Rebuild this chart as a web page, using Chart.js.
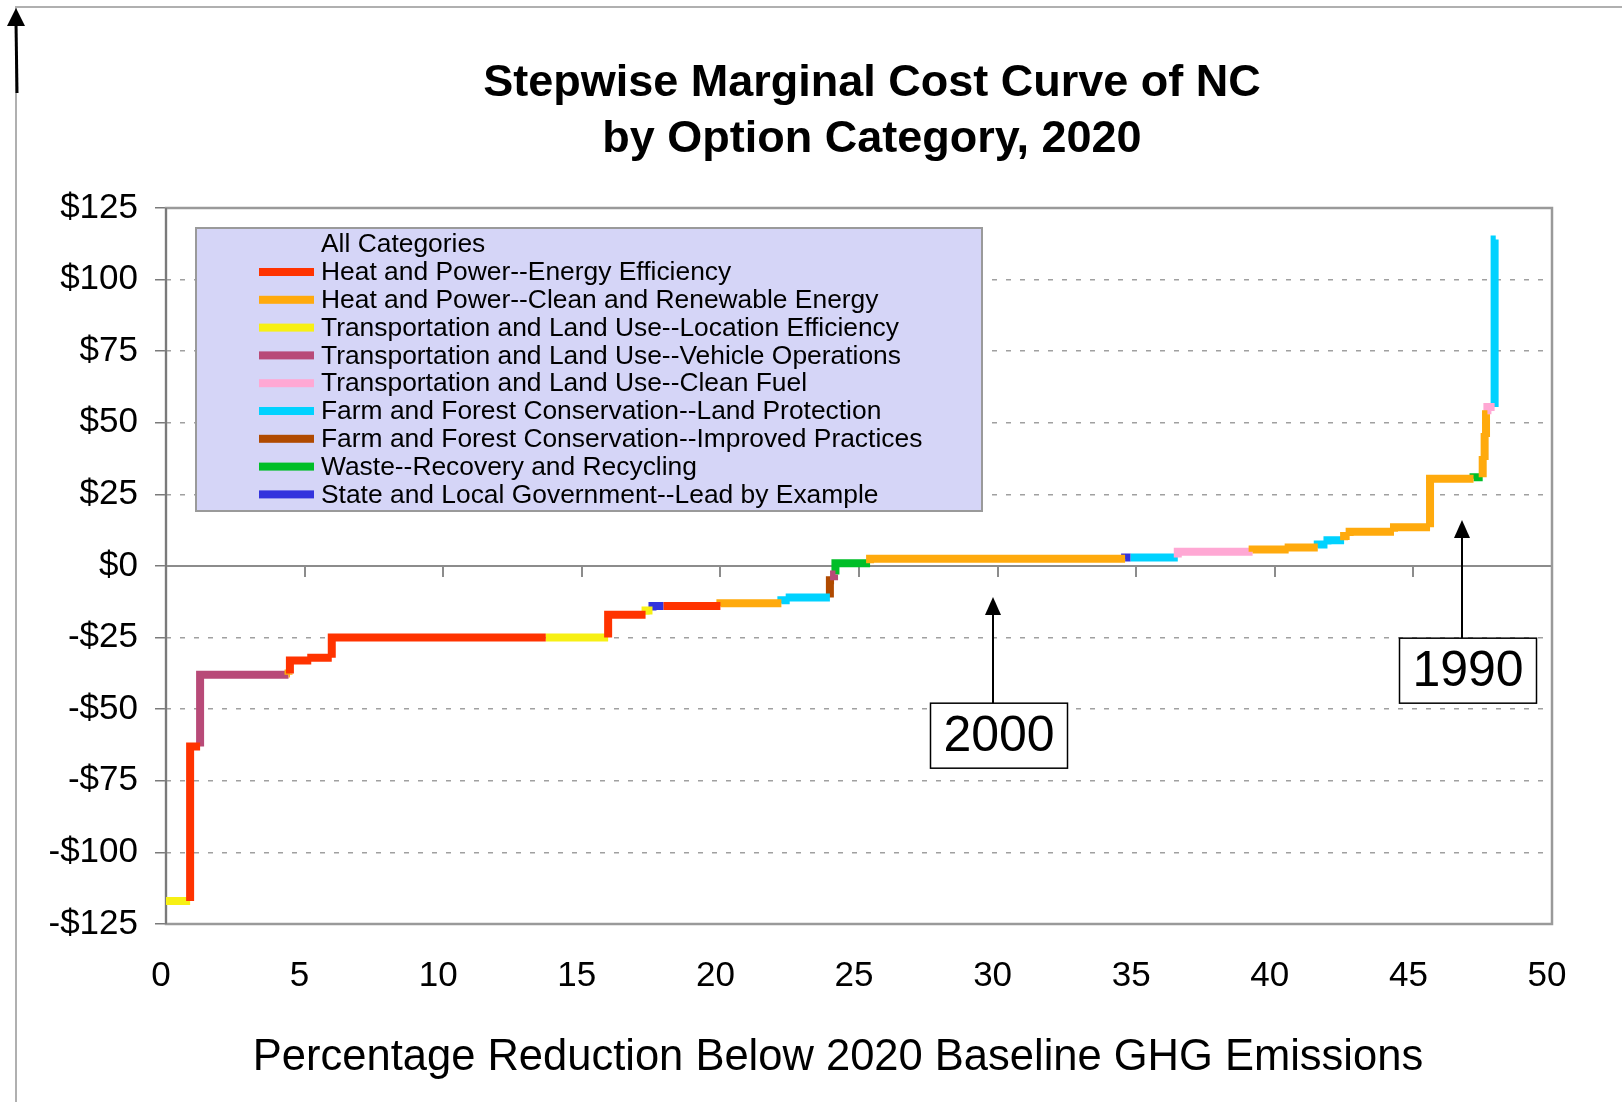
<!DOCTYPE html>
<html>
<head>
<meta charset="utf-8">
<title>Stepwise Marginal Cost Curve of NC</title>
<script src="https://cdn.jsdelivr.net/npm/chart.js@4.4.1/dist/chart.umd.min.js"></script>
<style>
  html, body { margin: 0; padding: 0; background: #fff; }
  canvas { display: block; }
</style>
</head>
<body>
<canvas id="curva" width="1622" height="1102"></canvas>
<script>
// categorias e cores da legenda
const categorias = [
  "Heat and Power--Energy Efficiency",
  "Heat and Power--Clean and Renewable Energy",
  "Transportation and Land Use--Location Efficiency",
  "Transportation and Land Use--Vehicle Operations",
  "Transportation and Land Use--Clean Fuel",
  "Farm and Forest Conservation--Land Protection",
  "Farm and Forest Conservation--Improved Practices",
  "Waste--Recovery and Recycling",
  "State and Local Government--Lead by Example"
];
const cores = ['#FF3300', '#FFAA0D', '#F7F014', '#B84A78', '#FFA8D4', '#00D2FF', '#B04A00', '#00BE28', '#3333DD'];

// degraus: limites em % de reducao (n+1), custo ($/t) e categoria de cada degrau
const limites = [0, 0.87, 1.23, 4.42, 4.47, 5.24, 5.98, 13.7, 15.95, 17.3, 17.55, 17.95, 20.0, 22.2, 22.5,
  23.95, 24.1, 24.15, 25.4, 34.6, 34.8, 36.5, 39.2, 40.5, 41.55, 41.9, 42.5, 42.7, 44.3, 45.6,
  47.17, 47.5, 47.57, 47.62, 47.67, 47.93, 47.97];
const custos = [-117, -63, -38, -37.5, -33, -32, -25, -25, -17, -15.5, -14, -14, -13, -12, -11,
  -5, -3, 1, 2.5, 3, 3, 5, 5.8, 6.5, 7.5, 9, 10.5, 12, 13.5,
  30.5, 31, 37, 45, 53, 55.5, 114];
const catDegrau = [2, 0, 3, 1, 0, 0, 0, 2, 0, 2, 8, 0, 1, 5, 5,
  6, 3, 7, 1, 8, 5, 4, 1, 1, 5, 5, 1, 1, 1,
  1, 7, 1, 1, 1, 4, 5];

const ticksX = [0, 5, 10, 15, 20, 25, 30, 35, 40, 45, 50];

// marcas de referencia (anos)
const marcos = ['2000', '1990'];
const marcosX = [29.85, 46.75];

const FONTE = '"Liberation Sans", Arial, Helvetica, sans-serif';

// monta um dataset por categoria, cada degrau = subida vertical + patamar
function montarDatasets() {
  return categorias.map((nome, c) => {
    const pts = [];
    custos.forEach((v, i) => {
      if (catDegrau[i] !== c) return;
      const anterior = i > 0 ? custos[i - 1] : v;
      pts.push({ x: limites[i], y: anterior });
      pts.push({ x: limites[i], y: v });
      pts.push({ x: limites[i + 1], y: v });
      pts.push({ x: limites[i + 1], y: null });
    });
    return {
      label: nome,
      data: pts,
      borderColor: cores[c],
      backgroundColor: cores[c],
      borderWidth: 8,
      borderCapStyle: 'butt',
      borderJoinStyle: 'miter',
      pointRadius: 0,
      tension: 0,
      spanGaps: false
    };
  });
}

// linha do zero com marcas, moldura da area do grafico
const eixoZero = {
  id: 'eixoZero',
  beforeDatasetsDraw(chart) {
    const { ctx, chartArea: a, scales: { x, y } } = chart;
    const y0 = y.getPixelForValue(0);
    ctx.save();
    ctx.strokeStyle = '#8c8c8c';
    ctx.lineWidth = 2;
    ctx.beginPath();
    ctx.moveTo(a.left, y0);
    ctx.lineTo(a.right, y0);
    ticksX.forEach(v => {
      const px = Math.round(x.getPixelForValue(v));
      ctx.moveTo(px, y0);
      ctx.lineTo(px, y0 + 11);
    });
    ctx.stroke();
    ctx.strokeStyle = '#9a9a9a';
    ctx.lineWidth = 2.5;
    ctx.strokeRect(a.left, a.top, a.right - a.left, a.bottom - a.top);
    ctx.strokeStyle = '#7a7a7a';
    ctx.lineWidth = 2;
    ctx.beginPath();
    ctx.moveTo(a.left, a.top);
    ctx.lineTo(a.left, a.bottom);
    ctx.stroke();
    ctx.restore();
  }
};

// legenda em caixa lilas dentro do grafico
const legendaCaixa = {
  id: 'legendaCaixa',
  afterDatasetsDraw(chart) {
    const ctx = chart.ctx;
    const bx = 196, by = 228, bw = 786, bh = 283;
    ctx.save();
    ctx.fillStyle = '#D5D5F7';
    ctx.fillRect(bx, by, bw, bh);
    ctx.strokeStyle = '#9a9a9a';
    ctx.lineWidth = 2;
    ctx.strokeRect(bx, by, bw, bh);
    ctx.font = '26.4px ' + FONTE;
    ctx.fillStyle = '#000';
    ctx.textBaseline = 'middle';
    ctx.fillText('All Categories', 321, 245);
    chart.data.datasets.forEach((ds, i) => {
      const yy = 272 + i * 27.8;
      ctx.fillStyle = ds.borderColor;
      ctx.fillRect(259, yy - 4, 55, 8);
      ctx.fillStyle = '#000';
      ctx.fillText(ds.label, 321, yy + 1);
    });
    ctx.restore();
  }
};

// titulos, anotacoes e moldura do slide
const textos = {
  id: 'textos',
  afterDraw(chart) {
    const { ctx, scales: { x, y } } = chart;
    ctx.save();
    ctx.fillStyle = '#000';
    ctx.textAlign = 'center';
    ctx.textBaseline = 'alphabetic';
    ctx.font = 'bold 45px ' + FONTE;
    ctx.fillText('Stepwise Marginal Cost Curve of NC', 872, 96);
    ctx.fillText('by Option Category, 2020', 872, 152);
    ctx.font = '43.5px ' + FONTE;
    ctx.fillText('Percentage Reduction Below 2020 Baseline GHG Emissions', 838, 1070);

    // setas e caixas dos anos
    const pontas = [-10.8, 16.1];
    const topos = [-47.9, -25.2];
    marcos.forEach((txt, i) => {
      const ax = Math.round(x.getPixelForValue(marcosX[i]));
      const tip = y.getPixelForValue(pontas[i]);
      const top = y.getPixelForValue(topos[i]);
      ctx.strokeStyle = '#000';
      ctx.lineWidth = 2;
      ctx.beginPath();
      ctx.moveTo(ax, top);
      ctx.lineTo(ax, tip + 15);
      ctx.stroke();
      ctx.beginPath();
      ctx.moveTo(ax, tip);
      ctx.lineTo(ax - 8, tip + 18);
      ctx.lineTo(ax + 8, tip + 18);
      ctx.closePath();
      ctx.fill();
      const cx = ax + 6, w = 137, h = 65;
      ctx.fillStyle = '#fff';
      ctx.fillRect(cx - w / 2, top, w, h);
      ctx.lineWidth = 1.5;
      ctx.strokeRect(cx - w / 2, top, w, h);
      ctx.fillStyle = '#000';
      ctx.font = '50px ' + FONTE;
      ctx.textBaseline = 'middle';
      ctx.fillText(txt, cx, top + h / 2 + 2);
    });

    // moldura do slide e seta no canto
    ctx.strokeStyle = '#b0b0b0';
    ctx.lineWidth = 2;
    ctx.beginPath();
    ctx.moveTo(16, 1102);
    ctx.lineTo(16, 7);
    ctx.lineTo(1622, 7);
    ctx.stroke();
    ctx.strokeStyle = '#000';
    ctx.lineWidth = 3;
    ctx.beginPath();
    ctx.moveTo(17, 93);
    ctx.lineTo(16, 22);
    ctx.stroke();
    ctx.beginPath();
    ctx.moveTo(16, 8);
    ctx.lineTo(7, 26);
    ctx.lineTo(25, 26);
    ctx.closePath();
    ctx.fill();
    ctx.restore();
  }
};

const ctx = document.getElementById('curva').getContext('2d');
const curva = new Chart(ctx, {
  type: 'line',
  data: { datasets: montarDatasets() },
  options: {
    responsive: false,
    animation: false,
    layout: { padding: { top: 208, right: 70, left: 0, bottom: 0 } },
    plugins: {
      legend: { display: false },
      title: { display: false },
      tooltip: { enabled: false }
    },
    scales: {
      x: {
        type: 'linear',
        min: 0,
        max: 50,
        afterFit: s => { s.height = 178; },
        afterBuildTicks: s => { s.ticks = ticksX.map(v => ({ value: v })); },
        grid: { drawOnChartArea: false, drawTicks: false },
        border: { display: false },
        ticks: {
          color: '#000',
          padding: 31,
          labelOffset: -5,
          maxRotation: 0,
          font: { family: FONTE, size: 35 }
        }
      },
      y: {
        min: -125,
        max: 125,
        afterFit: s => { s.width = 166; },
        grid: { color: '#a0a0a0', lineWidth: 1.5, tickLength: 11, tickColor: '#7a7a7a' },
        border: { display: false, dash: [5, 9] },
        ticks: {
          stepSize: 25,
          color: '#000',
          padding: 17,
          font: { family: FONTE, size: 35 },
          callback: v => (v < 0 ? '-$' : '$') + Math.abs(v)
        }
      }
    }
  },
  plugins: [eixoZero, legendaCaixa, textos]
});
</script>
</body>
</html>
